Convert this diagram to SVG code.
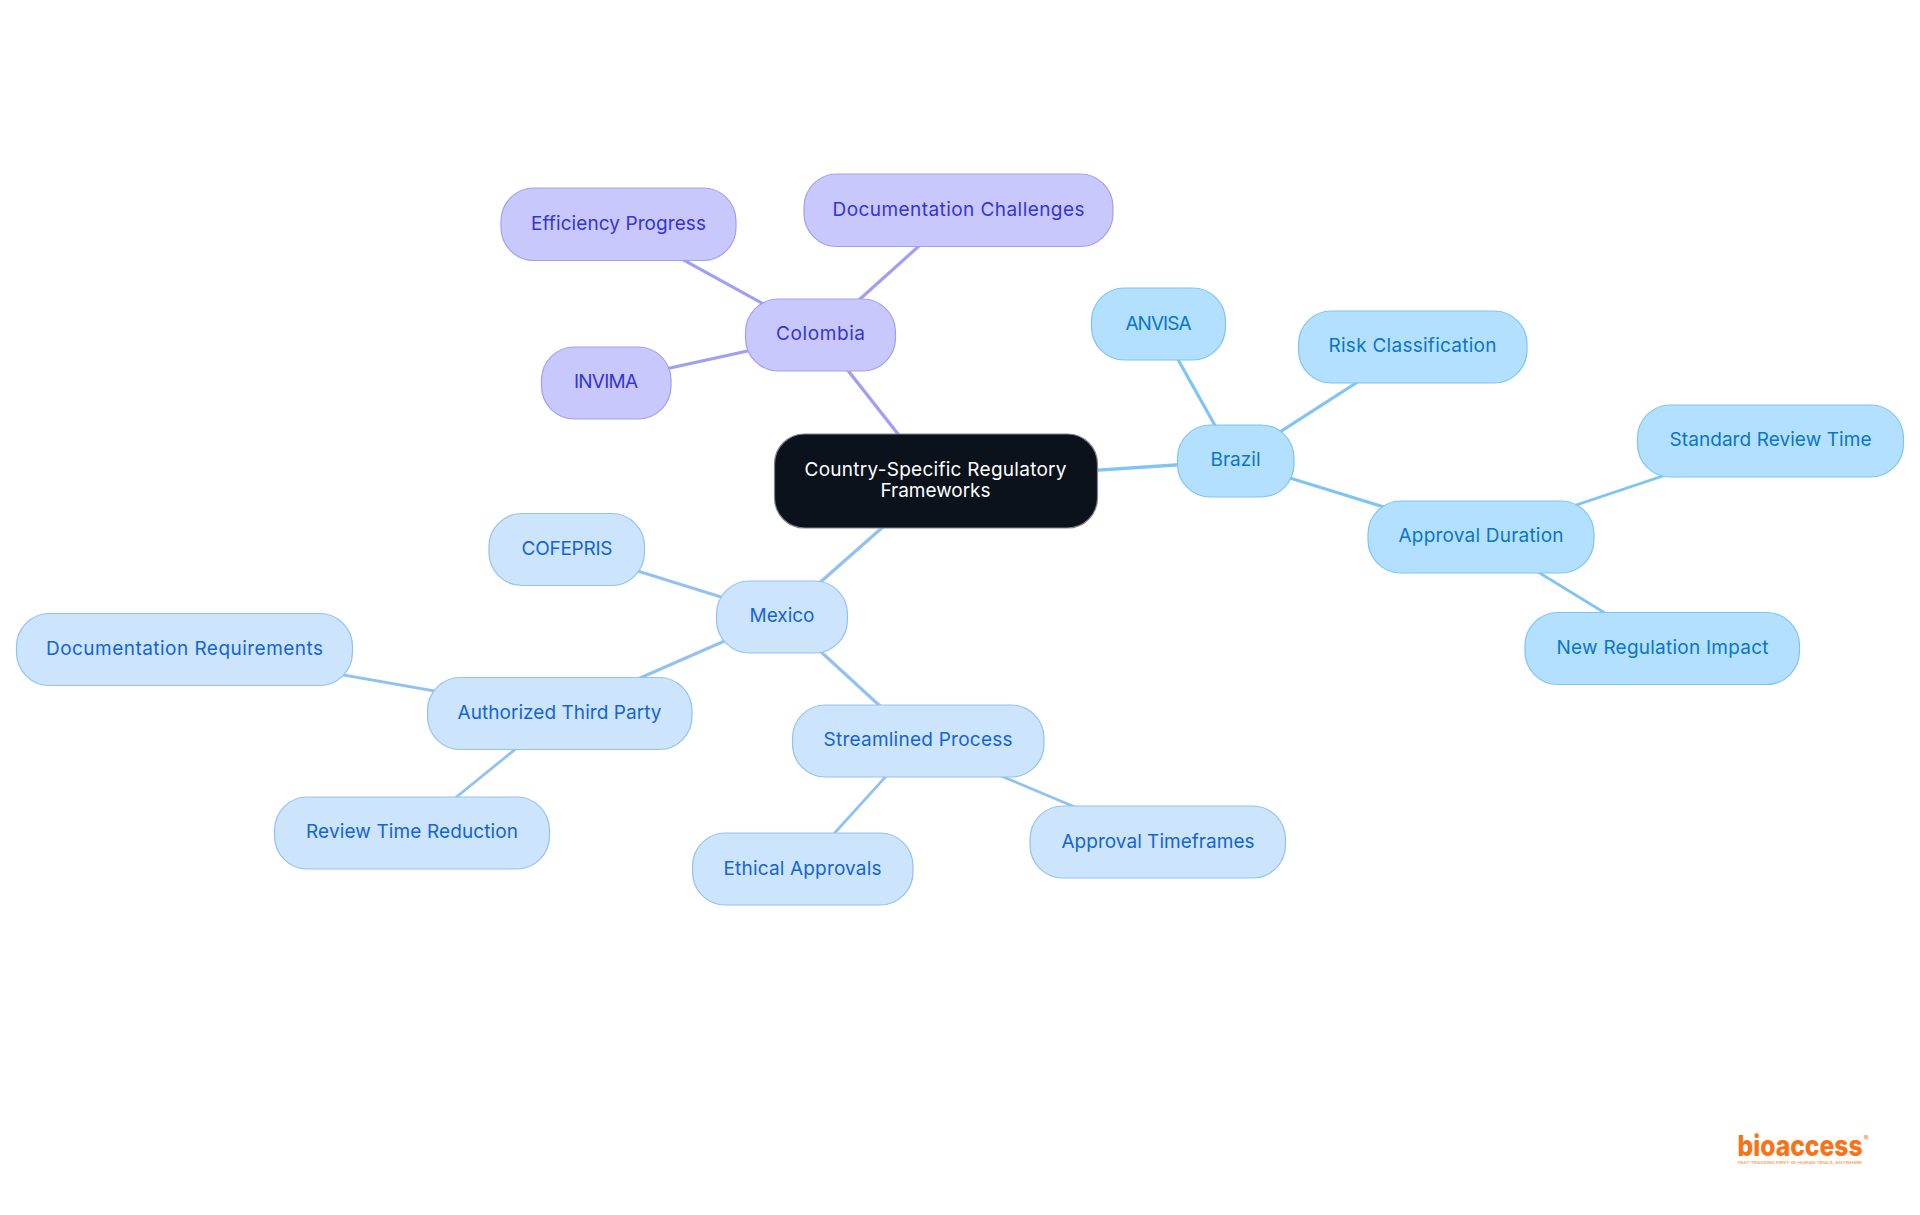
<svg xmlns="http://www.w3.org/2000/svg" width="1920" height="1215" viewBox="0 0 1920 1215">
<style>
text{font-family:"Inter","Noto Sans",sans-serif;font-size:19px;text-anchor:middle;font-weight:400}
.e{fill:none;stroke-linecap:butt}
.eb{stroke:#7fc4f3}.em{stroke:#93c2f1}.ec{stroke:#a09ff0}
.w1{stroke-width:3.4}.w2{stroke-width:3.2}.w3{stroke-width:2.8}
.b rect{fill:#b3e0ff;stroke:#7fc4f3;stroke-width:1.2}.b text{fill:#0b76c4}
.m rect{fill:#cce4fc;stroke:#93c2f1;stroke-width:1.2}.m text{fill:#1565d0}
.c rect{fill:#c8c8fd;stroke:#a09ff0;stroke-width:1.2}.c text{fill:#3535d1}
.r rect{fill:#0b121b;stroke:#80858b;stroke-width:1.2}.r text{fill:#fff}
</style>
<rect width="1920" height="1215" fill="#fff"/>
<g id="connectors">
<line class="e ec w1" x1="935" y1="481" x2="820" y2="335"/>
<line class="e ec w2" x1="820" y1="335" x2="959" y2="210"/>
<line class="e ec w2" x1="820" y1="335" x2="618" y2="224"/>
<line class="e ec w2" x1="820" y1="335" x2="606" y2="382"/>
<line class="e eb w1" x1="935" y1="481" x2="1235" y2="461"/>
<line class="e eb w2" x1="1235" y1="461" x2="1158" y2="324"/>
<line class="e eb w2" x1="1235" y1="461" x2="1412" y2="347"/>
<line class="e eb w2" x1="1235" y1="461" x2="1481" y2="537"/>
<line class="e eb w3" x1="1481" y1="537" x2="1770" y2="440"/>
<line class="e eb w3" x1="1481" y1="537" x2="1662" y2="648"/>
<line class="e em w1" x1="935" y1="481" x2="782" y2="616"/>
<line class="e em w2" x1="782" y1="616" x2="567" y2="549"/>
<line class="e em w2" x1="782" y1="616" x2="560" y2="713"/>
<line class="e em w2" x1="782" y1="616" x2="918" y2="741"/>
<line class="e em w3" x1="560" y1="713" x2="184" y2="647"/>
<line class="e em w3" x1="560" y1="713" x2="412" y2="833"/>
<line class="e em w3" x1="918" y1="741" x2="802" y2="869"/>
<line class="e em w3" x1="918" y1="741" x2="1158" y2="842"/>
</g>
<g id="root" class="r"><rect x="774.500" y="434" width="323" height="94" rx="30"/><text x="935.500" y="476" textLength="262">Country-Specific Regulatory</text><text x="935.500" y="497" textLength="110">Frameworks</text></g>
<g id="colombia" class="c"><rect x="745.500" y="299" width="150" height="72" rx="33"/><text x="820.500" y="340" textLength="89">Colombia</text></g>
<g id="efficiency-progress" class="c"><rect x="501" y="188" width="235" height="72.500" rx="33"/><text x="618.500" y="230" textLength="175">Efficiency Progress</text></g>
<g id="documentation-challenges" class="c"><rect x="804" y="174" width="309" height="72.500" rx="33"/><text x="958.500" y="216" textLength="252">Documentation Challenges</text></g>
<g id="invima" class="c"><rect x="541.500" y="347" width="129.500" height="72" rx="33"/><text x="606" y="388" textLength="64">INVIMA</text></g>
<g id="brazil" class="b"><rect x="1177.500" y="425" width="116.500" height="72" rx="33"/><text x="1235.500" y="466" textLength="50">Brazil</text></g>
<g id="anvisa" class="b"><rect x="1091.500" y="288" width="134" height="72" rx="33"/><text x="1158.500" y="330" textLength="66">ANVISA</text></g>
<g id="risk-classification" class="b"><rect x="1298.500" y="311" width="228.500" height="72" rx="33"/><text x="1412.500" y="352" textLength="168">Risk Classification</text></g>
<g id="approval-duration" class="b"><rect x="1368" y="501" width="226" height="72" rx="33"/><text x="1481" y="542" textLength="165">Approval Duration</text></g>
<g id="standard-review-time" class="b"><rect x="1637.500" y="405" width="266" height="72" rx="33"/><text x="1770.500" y="446" textLength="202">Standard Review Time</text></g>
<g id="new-regulation-impact" class="b"><rect x="1525" y="612.500" width="274.500" height="72" rx="33"/><text x="1662.500" y="654" textLength="212">New Regulation Impact</text></g>
<g id="mexico" class="m"><rect x="716.500" y="581" width="131" height="72" rx="33"/><text x="782" y="622" textLength="65">Mexico</text></g>
<g id="cofepris" class="m"><rect x="489" y="513.500" width="155.500" height="72" rx="33"/><text x="567" y="555" textLength="91">COFEPRIS</text></g>
<g id="authorized-third-party" class="m"><rect x="427.500" y="677.500" width="264.500" height="72" rx="33"/><text x="559.500" y="719" textLength="204">Authorized Third Party</text></g>
<g id="documentation-requirements" class="m"><rect x="16.500" y="613.500" width="336" height="72" rx="33"/><text x="184.500" y="655" textLength="277">Documentation Requirements</text></g>
<g id="review-time-reduction" class="m"><rect x="274.500" y="797" width="275" height="72" rx="33"/><text x="412" y="838" textLength="212">Review Time Reduction</text></g>
<g id="streamlined-process" class="m"><rect x="792.500" y="705" width="251.500" height="72" rx="33"/><text x="918" y="746" textLength="189">Streamlined Process</text></g>
<g id="ethical-approvals" class="m"><rect x="692.500" y="833" width="220.500" height="72" rx="33"/><text x="802.500" y="875" textLength="158">Ethical Approvals</text></g>
<g id="approval-timeframes" class="m"><rect x="1030" y="806" width="255.500" height="72" rx="33"/><text x="1158" y="848" textLength="193">Approval Timeframes</text></g>
<g id="logo">
<text transform="translate(1800 1156) scale(.862 1)" textLength="145" lengthAdjust="spacingAndGlyphs" style="font-size:29px;font-weight:800;fill:#f97316">bioaccess</text>
<text x="1866" y="1141" style="font-size:7px;font-weight:400;fill:#f97316">®</text>
<text x="1800" y="1164" textLength="124" lengthAdjust="spacingAndGlyphs" style="font-size:4px;font-weight:600;fill:#f9a066">FAST-TRACKING FIRST-IN-HUMAN TRIALS, ANYWHERE</text>
</g>
</svg>
